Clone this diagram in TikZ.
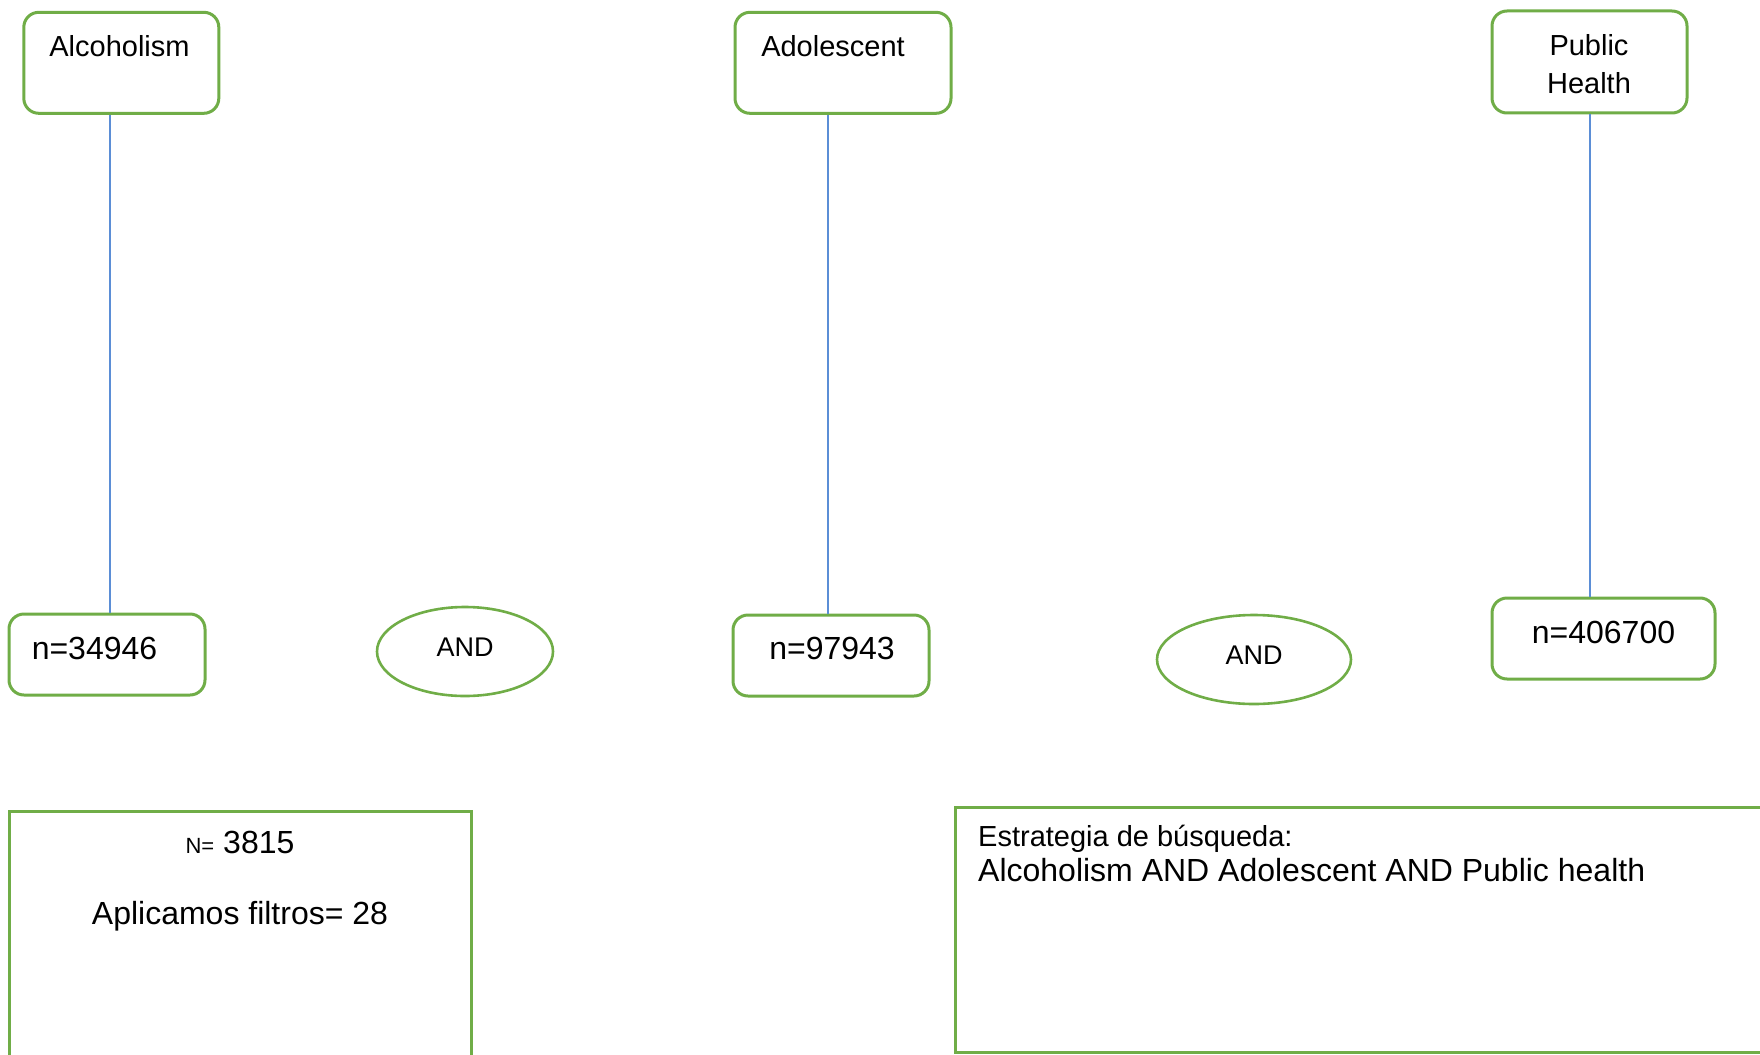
\documentclass[tikz,border=0pt]{standalone}
\usepackage{fontspec}
\setmainfont{Liberation Sans}
\usetikzlibrary{shapes.geometric}
\definecolor{gr}{HTML}{70AD47}
\definecolor{bl}{HTML}{5B8ED6}
\tikzset{
  gbox/.style={draw=gr, line width=3pt, rounded corners=15pt, fill=white, inner sep=0pt},
  gell/.style={draw=gr, line width=2.6pt, ellipse, inner sep=0pt},
  frame/.style={draw=gr, line width=3pt},
  link/.style={draw=bl, line width=1.2pt},
  txt/.style={inner sep=0pt, text height=0.716em, text depth=0pt},
  fa/.style={font=\fontsize{29}{34}\selectfont},
  fb/.style={font=\fontsize{32}{37}\selectfont},
  fc/.style={font=\fontsize{27}{30}\selectfont},
}
\begin{document}
\begin{tikzpicture}[x=1pt,y=-1pt]
\useasboundingbox (0,0) rectangle (1760,1054);
\clip (0,0) rectangle (1760,1054);
% top boxes
\node[gbox, minimum width=195pt, minimum height=101pt] (alc) at (121.3,62.8) {};
\node[txt, fa] (talc) at (119.5,53) {Alcoholism};
\node[gbox, minimum width=216pt, minimum height=101pt] (ado) at (843,62.8) {};
\node[txt, fa] (tado) at (833,53) {Adolescent};
\node[gbox, minimum width=195pt, minimum height=102pt] (ph) at (1589.5,62) {};
\node[txt, fa] (tph1) at (1589,52) {Public};
\node[txt, fa] (tph2) at (1589,90) {Health};
% count boxes
\node[gbox, minimum width=196pt, minimum height=81pt] (n1) at (107,654.5) {};
\node[txt, fb] (tn1) at (94.5,656) {n=34946};
\node[gbox, minimum width=196pt, minimum height=81pt] (n2) at (831,655.5) {};
\node[txt, fb] (tn2) at (832,656) {n=97943};
\node[gbox, minimum width=223pt, minimum height=81pt] (n3) at (1603.5,638.5) {};
\node[txt, fb] (tn3) at (1603.5,640) {n=406700};
% AND ellipses
\node[gell, minimum width=176pt, minimum height=89pt] (and1) at (465,651.5) {};
\node[txt, fc] (tand1) at (465,653) {AND};
\node[gell, minimum width=194pt, minimum height=89pt] (and2) at (1254,659.5) {};
\node[txt, fc] (tand2) at (1254,661) {AND};
% connectors
\coordinate (x1) at (110,0);
\coordinate (x2) at (828,0);
\coordinate (x3) at (1590,0);
\draw[link] (alc.south -| x1) -- (n1.north -| x1);
\draw[link] (ado.south -| x2) -- (n2.north -| x2);
\draw[link] (ph.south -| x3) -- (n3.north -| x3);
% bottom boxes
\draw[frame] (9,811) rectangle (471,1080);
\node[txt, fb] (tN) at (240,850) {{\fontsize{22}{26}\selectfont N=} 3815};
\node[txt, fb] (tfil) at (240,921) {Aplicamos filtros= 28};
\draw[frame] (955,807) rectangle (1790,1052);
\node[txt, fa, anchor=west] (test) at (978,843) {Estrategia de búsqueda:};
\node[txt, fb, anchor=west] (tstr) at (978,878) {Alcoholism AND Adolescent AND Public health};
\end{tikzpicture}
\end{document}
